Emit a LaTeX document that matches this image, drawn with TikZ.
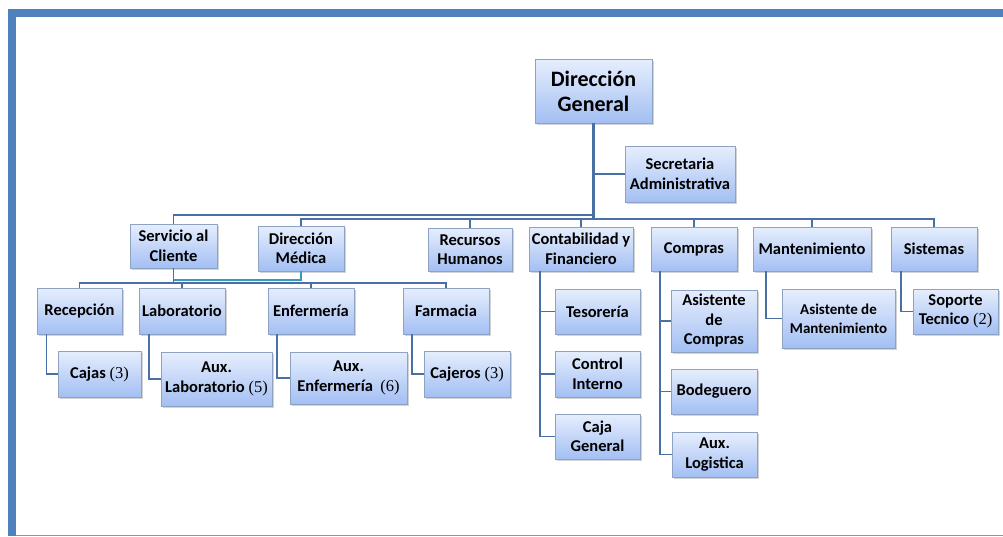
\documentclass[tikz,border=0pt]{standalone}
\usepackage{fontspec}
\setmainfont{Carlito}
\newfontfamily\cifra{Liberation Serif}
\usetikzlibrary{shadows}
\definecolor{marco}{HTML}{4F81BD}
\definecolor{linea}{HTML}{4A6FA5}
\definecolor{borde}{HTML}{8EA2C4}
\definecolor{claro}{HTML}{E6EEFD}
\definecolor{oscuro}{HTML}{A3BFF3}

\begin{document}
\begin{tikzpicture}[x=1pt,y=-1pt,
    area/.style={draw=borde, line width=0.8pt, top color=claro, bottom color=oscuro,
        drop shadow={shadow xshift=1.5pt,shadow yshift=-1.5pt,opacity=0.35},
        align=center, inner sep=0pt, font=\bfseries\fontsize{16.5}{19.5}\selectfont},
    tam/.style 2 args={minimum width=#1pt, minimum height=#2pt},
    con/.style={draw=linea, line width=1.6pt}]

    \useasboundingbox (0,0) rectangle (1003,536);
    \fill[marco] (8,9) rectangle (1003,17);
    \fill[marco] (8,9) rectangle (16,536);
    \draw[marco!80, line width=1pt] (16,535) -- (1003,535);

    % nivel superior
    \node[area,tam={117}{64},font=\bfseries\fontsize{22}{25}\selectfont] (DG) at (593.5,91) {Dirección\\General};
    \node[area,tam={110}{56}] (SA) at (680,174) {Secretaria\\Administrativa};

    % departamentos
    \node[area,tam={87}{44}] (SC) at (173.5,246) {Servicio al\\Cliente};
    \node[area,tam={86}{45}] (DM) at (301,248.5) {Dirección\\Médica};
    \node[area,tam={84}{43}] (RH) at (470,249.5) {Recursos\\Humanos};
    \node[area,tam={104}{44}] (CF) at (581,249) {Contabilidad y\\Financiero};
    \node[area,tam={86}{44}] (CO) at (694,249) {Compras};
    \node[area,tam={118}{44}] (MA) at (812,249) {Mantenimiento};
    \node[area,tam={86}{44}] (SI) at (934,249) {Sistemas};

    % servicio y medicina
    \node[area,tam={85}{46}] (REC) at (79.5,311) {Recepción};
    \node[area,tam={86}{46}] (LAB) at (182,311) {Laboratorio};
    \node[area,tam={86}{46}] (ENF) at (311,311) {Enfermería};
    \node[area,tam={86}{46}] (FAR) at (446,311) {Farmacia};
    \node[area,tam={83}{46}] (CJ) at (99.5,374) {Cajas {\cifra\mdseries(3)}};
    \node[area,tam={111}{54}] (AXL) at (216.5,379) {Aux.\\Laboratorio {\cifra\mdseries(5)}};
    \node[area,tam={117}{52}] (AXE) at (348.5,378) {Aux.\\Enfermería\ \ {\cifra\mdseries(6)}};
    \node[area,tam={86}{46}] (CJR) at (467,374) {Cajeros {\cifra\mdseries(3)}};

    % contabilidad
    \node[area,tam={85}{45}] (TE) at (597.5,311.5) {Tesorería};
    \node[area,tam={85}{46}] (CI) at (597.5,374) {Control\\Interno};
    \node[area,tam={85}{45}] (CG) at (597.5,436.5) {Caja\\General};

    % compras
    \node[area,tam={86}{62}] (AC) at (714,321) {Asistente\\de\\Compras};
    \node[area,tam={86}{45}] (BO) at (714,391.5) {Bodeguero};
    \node[area,tam={85}{45}] (AL) at (714.5,454.5) {Aux.\\Logistica};

    % mantenimiento y sistemas
    \node[area,tam={113}{59},font=\bfseries\fontsize{15}{19}\selectfont] (AM) at (838.5,318.5) {Asistente de\\Mantenimiento};
    \node[area,tam={85}{45}] (ST) at (955.5,311.5) {Soporte\\Tecnico {\cifra\mdseries(2)}};

    % conexiones
    \coordinate (bus1) at (594,215);
    \coordinate (bus2) at (594,219);
    \coordinate (sub1) at (174,280);
    \coordinate (sub2) at (174,283);
    \draw[con, line width=2.6pt] (DG.south) -- (DG.south |- bus2);
    \draw[con] (SA.west) -- (SA.west -| DG.south);
    \draw[con] (SC.north) |- (bus1);
    \foreach \n in {DM,RH,CF,CO,MA,SI}
        \draw[con] (\n.north) |- (bus2);
    \draw[con] (SC.south) -- (SC.south |- sub2);
    \draw[con, draw=linea!70!cyan] (DM.south) |- (sub1);
    \foreach \n in {REC,LAB,ENF,FAR}
        \draw[con] (\n.north) |- (sub2);
    \draw[con] ([xshift=-33pt]REC.south) |- (CJ.west);
    \draw[con] ([xshift=-33pt]LAB.south) |- (AXL.west);
    \draw[con] ([xshift=-34pt]ENF.south) |- (AXE.west);
    \draw[con] ([xshift=-34pt]FAR.south) |- (CJR.west);
    \foreach \n in {TE,CI,CG}
        \draw[con] ([xshift=-41pt]CF.south) |- (\n.west);
    \foreach \n in {AC,BO,AL}
        \draw[con] ([xshift=-34pt]CO.south) |- (\n.west);
    \draw[con] ([xshift=-46pt]MA.south) |- (AM.west);
    \draw[con] ([xshift=-33pt]SI.south) |- (ST.west);
\end{tikzpicture}
\end{document}
